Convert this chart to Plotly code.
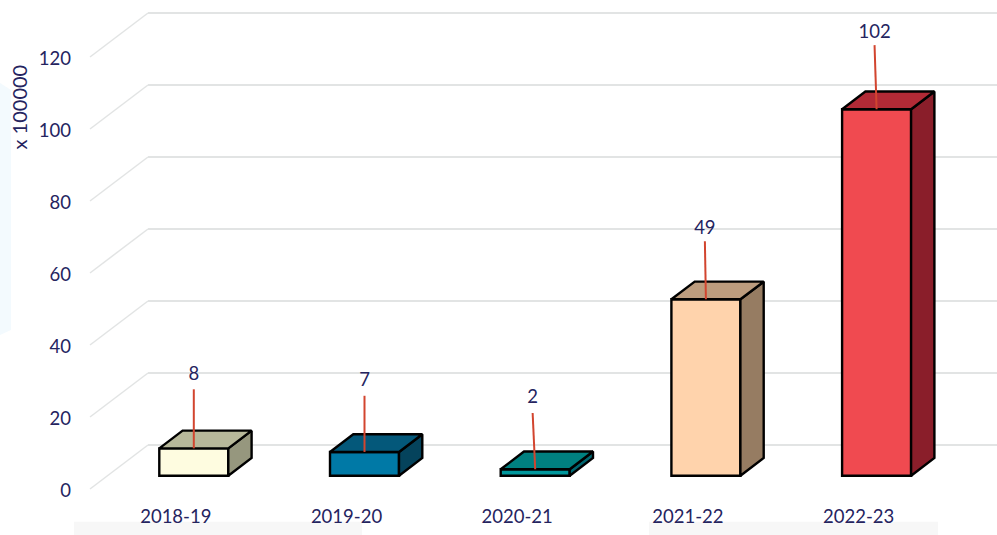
import plotly.graph_objects as go

# ---- data ----
categories = ["2018-19", "2019-20", "2020-21", "2021-22", "2022-23"]
values = [7.6, 6.6, 1.8, 49.0, 101.8]
y_ticks = [0, 20, 40, 60, 80, 100, 120]
axis_title = "x 100000"

front_colors = ["#FEFCE0", "#0079A6", "#00979C", "#FFD3AC", "#F04A50"]
top_colors = ["#B7B89A", "#04587A", "#008080", "#BC9C7E", "#B22A36"]
side_colors = ["#96977E", "#05435C", "#006670", "#967C62", "#8A1E2A"]

leader_lengths = [16.4, 15.6, 15.6, 16.1, 17.8]
leader_tilts = [0.0, 0.0, -0.015, -0.006, -0.012]
label_gaps = [1.3, 1.4, 1.4, 0.8, 0.8]

# ---- geometry ----
W, H = 997, 535
ML, PLOT_B = 80, 503
PX_PER_X, PX_PER_Y = 170.7, 3.6
X0_PX, Y0_PX = 193.8, 489
INK = "#25245F"
FONT = "Lato"
FS = 18.5

xr = [(ML - X0_PX) / PX_PER_X, (W - X0_PX) / PX_PER_X]
yr = [(Y0_PX - PLOT_B) / PX_PER_Y, Y0_PX / PX_PER_Y]
bar_w = 69 / PX_PER_X
bar_base = 13.3 / PX_PER_Y
dx, dy = 23.3 / PX_PER_X, 17.7 / PX_PER_Y
wall_front = (90 - X0_PX) / PX_PER_X
wall_back = (148 - X0_PX) / PX_PER_X
wall_rise = 44 / PX_PER_Y
xs = list(range(len(categories)))
EDGE = 2.4


def px(p):
    return (p - ML) / (W - ML)


def py(p):
    return (PLOT_B - p) / PLOT_B


shapes = []
# faint page panels behind the chart
shapes.append(dict(type="path", xref="paper", yref="paper", layer="below", line_width=0,
                   fillcolor="#F3FAFE",
                   path=f"M{px(0)},{py(83)} L{px(11)},{py(90)} L{px(11)},{py(330)} L{px(0)},{py(335)} Z"))
for a, b in [(74, 362), (649, 938)]:
    shapes.append(dict(type="rect", xref="paper", yref="paper", layer="below", line_width=0,
                       fillcolor="#F7F7F7", x0=px(a), x1=px(b), y0=py(535), y1=py(521.7)))
# floor / wall gridlines
for t in y_ticks:
    shapes.append(dict(type="line", xref="x", yref="y", layer="below",
                       line=dict(color="#E2E4E4", width=1.5),
                       x0=wall_front, y0=t, x1=wall_back, y1=t + wall_rise))
    shapes.append(dict(type="line", xref="x", yref="y", layer="below",
                       line=dict(color="#E2E4E4", width=2),
                       x0=wall_back, y0=t + wall_rise, x1=xr[1], y1=t + wall_rise))

fig = go.Figure()
fig.add_trace(go.Bar(x=xs, y=values, base=[bar_base] * len(values), width=bar_w,
                     marker=dict(color=front_colors, line=dict(color="black", width=EDGE)),
                     showlegend=False, hoverinfo="skip"))

for i, v in enumerate(values):
    l, r = i - bar_w / 2, i + bar_w / 2
    top, bot = bar_base + v, bar_base
    fig.add_trace(go.Scatter(x=[r, r + dx, r + dx, r, r], y=[bot, bot + dy, top + dy, top, bot],
                             mode="lines", fill="toself", fillcolor=side_colors[i],
                             line=dict(color="black", width=EDGE), showlegend=False, hoverinfo="skip"))
    fig.add_trace(go.Scatter(x=[l, l + dx, r + dx, r, l], y=[top, top + dy, top + dy, top, top],
                             mode="lines", fill="toself", fillcolor=top_colors[i],
                             line=dict(color="black", width=EDGE), showlegend=False, hoverinfo="skip"))
    lx, ly = i + leader_tilts[i], top + leader_lengths[i]
    fig.add_trace(go.Scatter(x=[i, lx], y=[top, ly], mode="lines",
                             line=dict(color="#D2452F", width=2), showlegend=False, hoverinfo="skip"))
    fig.add_trace(go.Scatter(x=[lx], y=[ly + label_gaps[i]], mode="text", text=[str(round(v))],
                             textposition="top center", textfont=dict(family=FONT, size=FS, color=INK),
                             showlegend=False, hoverinfo="skip"))

fig.update_layout(
    width=W, height=H,
    margin=dict(l=ML, r=0, t=0, b=H - PLOT_B, pad=0),
    paper_bgcolor="white", plot_bgcolor="rgba(0,0,0,0)",
    font=dict(family=FONT, size=FS, color=INK),
    shapes=shapes, showlegend=False,
    annotations=[dict(text=axis_title, xref="paper", yref="paper", x=px(18.5), y=py(107),
                      textangle=-90, showarrow=False, xanchor="center", yanchor="middle",
                      font=dict(family=FONT, size=20, color=INK))],
    xaxis=dict(range=xr, tickmode="array", tickvals=xs, ticktext=categories, ticklabelshift=-18,
               showgrid=False, zeroline=False, showline=False, ticks="", ticklabelstandoff=0,
               tickfont=dict(family=FONT, size=FS, color=INK), fixedrange=True),
    yaxis=dict(range=yr, tickmode="array", tickvals=y_ticks, showgrid=False, zeroline=False,
               showline=False, ticks="", ticklabelstandoff=8, ticklabelshift=2,
               tickfont=dict(family=FONT, size=FS, color=INK), fixedrange=True),
)

fig.write_html("out.html", config={"displayModeBar": False},
               post_script="document.body.style.margin='0';document.documentElement.style.overflow='hidden';")
